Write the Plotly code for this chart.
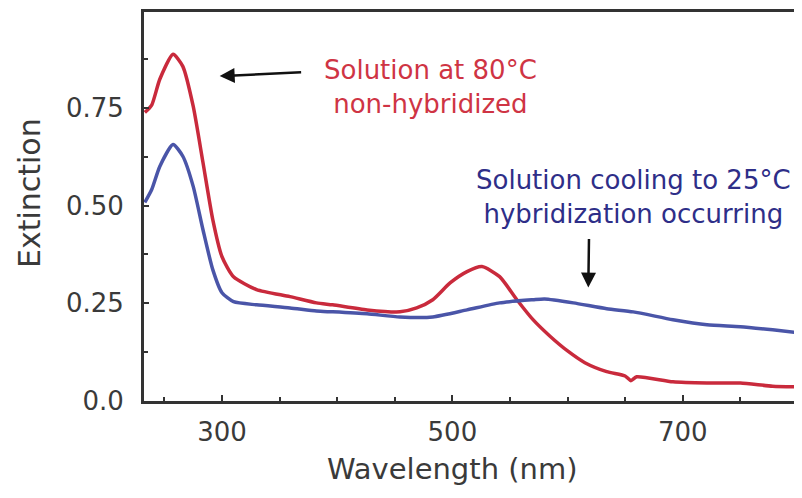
import plotly.graph_objects as go

# Red: solution at 80 C (non-hybridized)
red_wl = [233, 239, 246, 257.5, 266, 275, 283.5, 292, 300, 310, 330, 359, 382, 396, 426,
          454.5, 469, 483, 498, 512.7, 525.7, 541, 556, 570, 585, 600, 615, 634, 650, 655,
          660, 691.5, 721, 750, 778, 803]
red_ext = [0.738, 0.757, 0.823, 0.887, 0.856, 0.754, 0.61, 0.464, 0.369, 0.318, 0.285, 0.267,
           0.251, 0.246, 0.233, 0.228, 0.238, 0.259, 0.302, 0.331, 0.344, 0.318, 0.259, 0.208,
           0.165, 0.128, 0.098, 0.075, 0.064, 0.052, 0.062, 0.049, 0.046, 0.046, 0.038, 0.036]

# Blue: solution cooling to 25 C (hybridization occurring)
blue_wl = [233, 239, 246, 257.5, 266, 275, 283.5, 292, 300, 310, 330, 359, 382, 396, 426,
           454.5, 483, 512.7, 541, 570, 580, 605, 634, 657, 691.5, 721, 750, 778, 803]
blue_ext = [0.508, 0.541, 0.6, 0.656, 0.626, 0.549, 0.438, 0.336, 0.277, 0.254, 0.246, 0.238,
            0.230, 0.228, 0.223, 0.215, 0.215, 0.233, 0.251, 0.259, 0.261, 0.251, 0.236, 0.228,
            0.208, 0.195, 0.19, 0.182, 0.174]

x_ticks = [300, 500, 700]
y_ticks = [0.0, 0.25, 0.5, 0.75]
y_tick_labels = ["0.0", "0.25", "0.50", "0.75"]

FONT = "DejaVu Sans"
AX = "#333333"

fig = go.Figure()
fig.add_trace(go.Scatter(x=red_wl, y=red_ext, mode="lines",
                         line=dict(color="#c92a3c", width=3.5, shape="spline", smoothing=0.6),
                         showlegend=False))
fig.add_trace(go.Scatter(x=blue_wl, y=blue_ext, mode="lines",
                         line=dict(color="#4a55a8", width=3.5, shape="spline", smoothing=0.6),
                         showlegend=False))

fig.update_layout(
    width=794, height=490,
    margin=dict(l=136, r=0, t=4, b=97),
    paper_bgcolor="white", plot_bgcolor="white",
    font=dict(family=FONT, size=26, color="#3a3a3a"),
    xaxis=dict(range=[232.3, 803.5], tickvals=x_ticks, ticks="inside", ticklen=6,
               tickwidth=2, tickcolor=AX, showline=True, linecolor=AX, linewidth=3,
               mirror=True, showgrid=False, zeroline=False, ticklabelstandoff=6,
               minor=dict(dtick=50, tick0=250, ticks="inside", ticklen=4, tickcolor=AX, tickwidth=2)),
    yaxis=dict(range=[0, 0.995], tickvals=y_ticks, ticktext=y_tick_labels, ticks="inside",
               ticklen=5, tickwidth=2, tickcolor=AX, showline=True, linecolor=AX, linewidth=3,
               showgrid=False, zeroline=False, ticklabelstandoff=12,
               minor=dict(dtick=0.125, tick0=0, ticks="inside", ticklen=4, tickcolor=AX, tickwidth=2)),
)

# Axis titles as annotations
fig.add_annotation(text="Wavelength (nm)", xref="x", yref="paper", x=500, y=-0.175,
                   yanchor="middle", showarrow=False, font=dict(size=29, color="#3a3a3a"))
fig.add_annotation(text="Extinction", xref="paper", yref="paper", x=-0.173, y=0.535,
                   textangle=-90, xanchor="center", yanchor="middle", showarrow=False,
                   font=dict(size=30, color="#3a3a3a"))

# Text labels
fig.add_annotation(text="Solution at 80°C<br>non-hybridized", x=481, y=0.804,
                   showarrow=False, font=dict(size=26, color="#cf3444"), align="center")
fig.add_annotation(text="Solution cooling to 25°C<br>hybridization occurring", x=657, y=0.522,
                   showarrow=False, font=dict(size=26, color="#2e2e88"), align="center")

# Arrows
fig.add_annotation(x=298, y=0.831, ax=370, ay=0.841, axref="x", ayref="y", text="",
                   showarrow=True, arrowhead=2, arrowsize=1.2, arrowwidth=2.5, arrowcolor="#111111")
fig.add_annotation(x=618, y=0.29, ax=618.6, ay=0.418, axref="x", ayref="y", text="",
                   showarrow=True, arrowhead=2, arrowsize=1.2, arrowwidth=2.5, arrowcolor="#111111")

fig.write_html("out.html")
